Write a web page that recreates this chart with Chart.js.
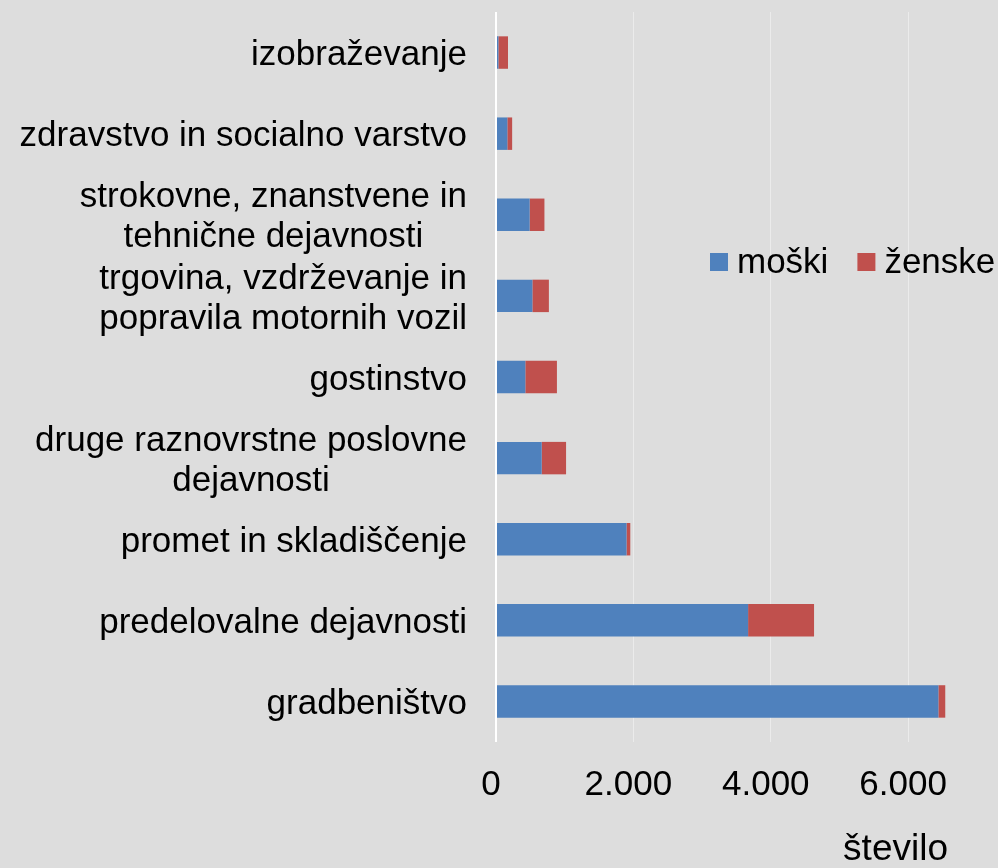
<!DOCTYPE html>
<html>
<head>
<meta charset="utf-8">
<script src="https://cdn.jsdelivr.net/npm/chart.js@4/dist/chart.umd.min.js"></script>
<style>
  html, body { margin: 0; padding: 0; background: #dddddd; }
  #wrap { width: 998px; height: 868px; }
</style>
</head>
<body>
<div id="wrap"><canvas id="chart"></canvas></div>
<script>
// ----------------- Data -----------------
const categories = [
  'izobraževanje',
  'zdravstvo in socialno varstvo',
  ['strokovne, znanstvene in', 'tehnične dejavnosti'],
  ['trgovina, vzdrževanje in', 'popravila motornih vozil'],
  'gostinstvo',
  ['druge raznovrstne poslovne', 'dejavnosti'],
  'promet in skladiščenje',
  'predelovalne dejavnosti',
  'gradbeništvo'
];
const moski  = [35, 165, 490, 530, 427, 665, 1900, 3670, 6440];
const zenske = [140, 70, 215, 240, 460, 355, 55, 960, 100];
const seriesNames = ['moški', 'ženske'];
const seriesColors = ['#4f81bd', '#c0504d'];
const xTicks = [0, 2000, 4000, 6000];
const axisTitle = 'število';

const FONT = 'Arial, "Liberation Sans", sans-serif';

function fmt(v) {
  return String(v).replace(/\B(?=(\d{3})+(?!\d))/g, '.');
}

// y labels: right aligned block, lines centered inside (Excel style)
const yLabelsPlugin = {
  id: 'yLabels',
  afterDraw(chart) {
    const { ctx, chartArea } = chart;
    const yScale = chart.scales.y;
    ctx.save();
    ctx.font = '35px ' + FONT;
    ctx.fillStyle = '#000';
    ctx.textAlign = 'center';
    ctx.textBaseline = 'middle';
    const right = chartArea.left - 29;
    const lh = 40;
    categories.forEach((lab, i) => {
      const lines = Array.isArray(lab) ? lab : [lab];
      const w = Math.max(...lines.map(l => ctx.measureText(l).width));
      const cx = right - w / 2;
      const cy = yScale.getPixelForValue(i) + 3;
      lines.forEach((l, j) => {
        ctx.fillText(l, cx, cy - (lines.length - 1) * lh / 2 + j * lh);
      });
    });
    ctx.restore();
  }
};

// legend inside the plot area, right side
const legendPlugin = {
  id: 'innerLegend',
  afterDraw(chart) {
    const { ctx } = chart;
    ctx.save();
    ctx.font = '35px ' + FONT;
    ctx.textBaseline = 'middle';
    ctx.textAlign = 'left';
    let x = 710;
    const y = 262;
    chart.data.datasets.forEach(ds => {
      ctx.fillStyle = ds.backgroundColor;
      ctx.fillRect(x, y - 9, 18, 18);
      x += 18 + 9;
      ctx.fillStyle = '#000';
      ctx.fillText(ds.label, x, y + 1);
      x += ctx.measureText(ds.label).width + 29;
    });
    ctx.restore();
  }
};

const ctx = document.getElementById('chart').getContext('2d');
new Chart(ctx, {
  type: 'bar',
  data: {
    labels: categories,
    datasets: [
      { label: seriesNames[0], data: moski, backgroundColor: seriesColors[0] },
      { label: seriesNames[1], data: zenske, backgroundColor: seriesColors[1] }
    ]
  },
  options: {
    indexAxis: 'y',
    responsive: true,
    maintainAspectRatio: false,
    animation: false,
    events: [],
    layout: { padding: { left: 496, right: 50, top: 12, bottom: 0 } },
    datasets: { bar: { barPercentage: 0.4, categoryPercentage: 1 } },
    plugins: { legend: { display: false }, tooltip: { enabled: false } },
    scales: {
      y: { stacked: true, display: false },
      x: {
        stacked: true,
        min: 0,
        max: 6580,
        afterBuildTicks: axis => { axis.ticks = xTicks.map(v => ({ value: v })); },
        afterFit: axis => { axis.height = 126; },
        border: { display: false },
        grid: {
          drawTicks: false,
          color: c => c.tick && c.tick.value === 0 ? '#ffffff' : '#ebebeb',
          lineWidth: c => c.tick && c.tick.value === 0 ? 2 : 1
        },
        ticks: {
          color: '#000',
          font: { family: FONT, size: 35 },
          padding: 22,
          labelOffset: -5,
          maxRotation: 0,
          callback: v => fmt(v)
        },
        title: {
          display: true,
          text: axisTitle,
          align: 'end',
          color: '#000',
          font: { family: FONT, size: 37, lineHeight: 1 },
          padding: { top: 0, bottom: 0 }
        }
      }
    }
  },
  plugins: [yLabelsPlugin, legendPlugin]
});
</script>
</body>
</html>
